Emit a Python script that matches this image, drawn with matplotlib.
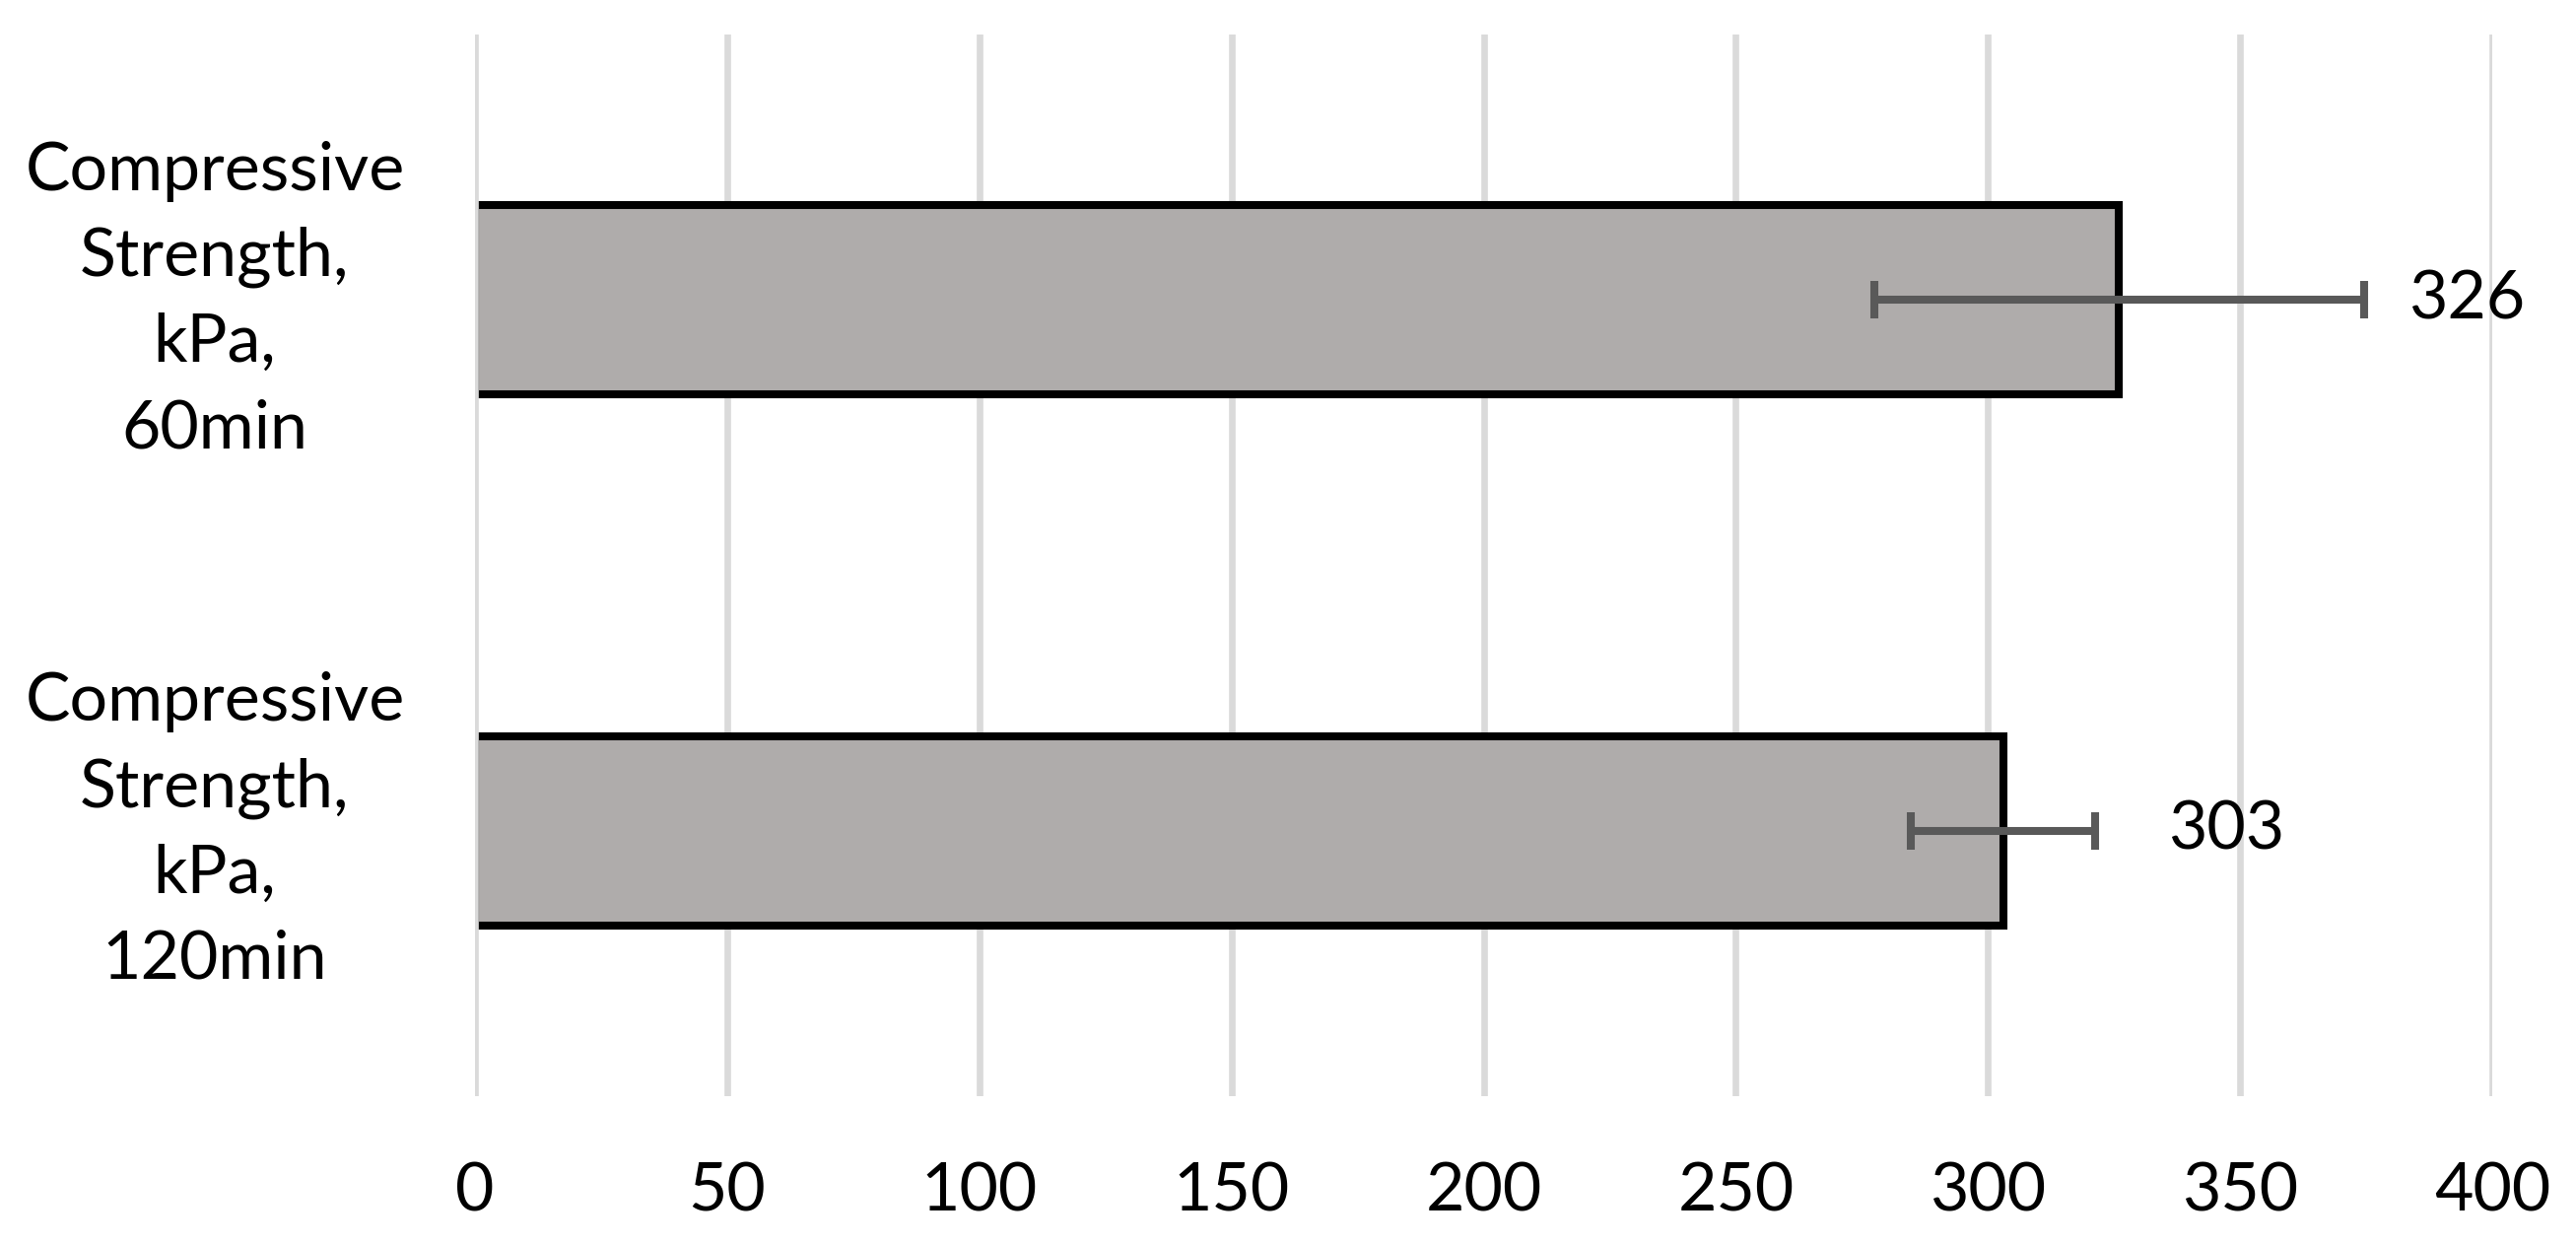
import matplotlib
matplotlib.use("Agg")
import matplotlib.pyplot as plt

categories = ["Compressive\nStrength,\nkPa,\n60min", "Compressive\nStrength,\nkPa,\n120min"]
values = [326, 303]
errors = [48.6, 18.3]
value_labels = ["326", "303"]
label_x = [383.4, 335.7]
xticks = [0, 50, 100, 150, 200, 250, 300, 350, 400]

FONT = "Lato"
FS = 49

fig = plt.figure(figsize=(26.14, 12.62), dpi=100)
ax = fig.add_axes([482/2614, 1-1112/1262, (2529-482)/2614, (1112-35)/1262])

ypos = list(range(len(categories)))
ax.barh(ypos, values, height=0.357, color="#afacab", edgecolor="black",
        linewidth=5.8, zorder=2)
ax.errorbar(values, ypos, xerr=errors, fmt="none", ecolor="#595959",
            elinewidth=5.8, capsize=14, capthick=5.8, zorder=3)

for xv in xticks:
    ax.axvline(xv, color="#dadada", linewidth=4.8, zorder=1 if xv != 0 else 4)

for y, lab, lx in zip(ypos, value_labels, label_x):
    ax.text(lx, y, lab, ha="left", va="center", fontsize=FS, family=FONT,
            color="black", zorder=5)

for y, cat in zip(ypos, categories):
    ax.text(-0.129, y, cat, transform=ax.get_yaxis_transform(), ha="center",
            va="center", fontsize=FS, family=FONT, linespacing=1.5,
            color="black")

ax.set_xlim(0, 400)
ax.set_ylim(1.5, -0.5)
ax.set_xticks(xticks)
ax.set_xticklabels([str(t) for t in xticks], fontsize=FS, family=FONT)
ax.set_yticks([])
ax.tick_params(axis="x", length=0, pad=48)
for s in ax.spines.values():
    s.set_visible(False)

fig.savefig("out.png", dpi=100, facecolor="white")
